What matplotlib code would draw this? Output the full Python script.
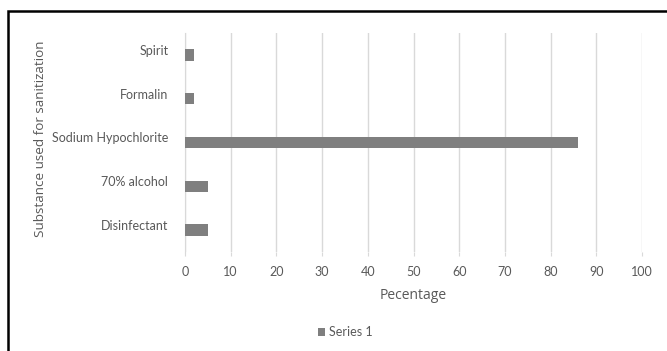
import matplotlib
matplotlib.use("Agg")
import matplotlib.pyplot as plt
import matplotlib.transforms as mtransforms
from matplotlib.patches import Rectangle

substances = ["Disinfectant", "70% alcohol", "Sodium Hypochlorite", "Formalin", "Spirit"]
percent = [5, 5, 86, 2, 2]
x_ticks = [0, 10, 20, 30, 40, 50, 60, 70, 80, 90, 100]

text_col = "#595959"
bar_col = "#7f7f7f"
grid_col = "#d9d9d9"

plt.rcParams["font.family"] = ["Lato", "DejaVu Sans"]

fig = plt.figure(figsize=(6.67, 3.51), dpi=100)
ax = fig.add_axes([185 / 667, 1 - 252 / 351, 457 / 667, 219 / 351])

pos = list(range(len(substances)))
bars = ax.barh(pos, percent, height=0.26, color=bar_col, label="Series 1", zorder=3)

ax.set_xlim(0, 100)
ax.set_ylim(-0.5, len(substances) - 0.5)
ax.set_xticks(x_ticks)
ax.set_yticks(pos)
ax.set_yticklabels(substances)
ax.grid(axis="x", color=grid_col, linewidth=1, zorder=0)
for s in ["top", "right", "bottom"]:
    ax.spines[s].set_visible(False)
ax.spines["left"].set_color(grid_col)
ax.tick_params(axis="y", length=0, pad=12, labelsize=9, labelcolor=text_col)
ax.tick_params(axis="x", length=3, color=grid_col, pad=7, labelsize=9, labelcolor=text_col)

# lift the category labels a little above the bars
shift = mtransforms.ScaledTranslation(0, 5 / 100, fig.dpi_scale_trans)
for lbl in ax.get_yticklabels():
    lbl.set_transform(lbl.get_transform() + shift)

ax.set_xlabel("Pecentage", fontsize=10, color=text_col, labelpad=7,
              family=["Open Sans", "DejaVu Sans"])
ax.set_ylabel("Substance used for sanitization", fontsize=9.7, color=text_col,
              family=["Open Sans", "DejaVu Sans"])
ax.yaxis.set_label_coords(-0.302, 0.516)

leg = fig.legend(handles=[bars], loc="center", bbox_to_anchor=(345 / 667, 1 - 332 / 351),
                 frameon=False, fontsize=9, handlelength=0.6, handleheight=0.6,
                 handletextpad=0.3)
for t in leg.get_texts():
    t.set_color(text_col)

# chart frame
fig.patches.append(Rectangle((8 / 667, -0.1), 1.2, 1.1 - 11 / 351, transform=fig.transFigure,
                             fill=False, edgecolor="black", linewidth=1.8, zorder=10))

fig.savefig("out.png", dpi=100, facecolor="white")
